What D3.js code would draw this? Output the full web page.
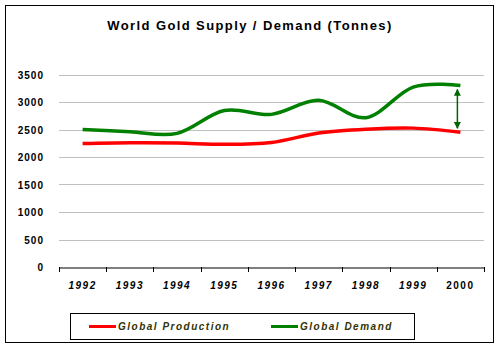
<!DOCTYPE html>
<html>
<head>
<meta charset="utf-8">
<script src="https://cdn.jsdelivr.net/npm/d3@7"></script>
<style>
  body { margin: 0; background: #fff; }
  text { font-family: "Liberation Sans", Arial, sans-serif; }
</style>
</head>
<body>
<div id="chart"></div>
<script>
var years = ['1992', '1993', '1994', '1995', '1996', '1997', '1998', '1999', '2000']
var production = [2245, 2260, 2255, 2230, 2265, 2435, 2505, 2525, 2450]
var demand = [2500, 2460, 2430, 2845, 2775, 3030, 2715, 3270, 3300]
var yTicks = [0, 500, 1000, 1500, 2000, 2500, 3000, 3500]
var seriesNames = ['Global Production', 'Global Demand']
var seriesColors = ['#ff0000', '#008000']

var width = 500, height = 350

var svg = d3.select('#chart')
    .append('svg')
    .attr('width', width)
    .attr('height', height)

// outer frame
svg.append('rect')
    .attr('x', 5.5).attr('y', 5.5)
    .attr('width', 488).attr('height', 337)
    .attr('fill', '#fff')
    .attr('stroke', '#000')

svg.append('text')
    .attr('x', 250).attr('y', 30)
    .attr('text-anchor', 'middle')
    .style('font-size', '13px')
    .style('font-weight', 'bold')
    .style('letter-spacing', '1.4px')
    .text('World Gold Supply / Demand (Tonnes)')

var x = d3.scaleBand()
    .domain(years)
    .range([59, 484])

var y = d3.scaleLinear()
    .domain([0, 3500])
    .range([267, 74.5])

// gridlines
svg.append('g')
    .selectAll('line')
    .data(yTicks.filter(function(d) { return d > 0 }))
    .enter()
    .append('line')
    .attr('x1', 59).attr('x2', 484)
    .attr('y1', function(d) { return Math.round(y(d)) + 0.5 })
    .attr('y2', function(d) { return Math.round(y(d)) + 0.5 })
    .attr('stroke', '#c0c0c0')
    .attr('stroke-width', 1)

// y labels
svg.append('g')
    .selectAll('text')
    .data(yTicks)
    .enter()
    .append('text')
    .attr('x', 44)
    .attr('y', function(d) { return y(d) + 4 })
    .attr('text-anchor', 'end')
    .style('font-size', '10px')
    .style('font-weight', 'bold')
    .style('letter-spacing', '1px')
    .text(function(d) { return d })

// x axis
var xAxis = svg.append('g')
    .attr('transform', 'translate(0,267.5)')
    .call(d3.axisBottom(x).tickSize(0).tickFormat(''))
xAxis.select('.domain').attr('stroke', '#000')

svg.append('g')
    .selectAll('line')
    .data(years.concat(['end']))
    .enter()
    .append('line')
    .attr('x1', function(d, i) { return Math.round(59 + i * x.step()) + 0.5 })
    .attr('x2', function(d, i) { return Math.round(59 + i * x.step()) + 0.5 })
    .attr('y1', 267).attr('y2', 272)
    .attr('stroke', '#000')

svg.append('g')
    .selectAll('text')
    .data(years)
    .enter()
    .append('text')
    .attr('x', function(d) { return x(d) + x.bandwidth() / 2 })
    .attr('y', 289)
    .attr('text-anchor', 'middle')
    .style('font-size', '10px')
    .style('font-weight', 'bold')
    .style('font-style', function(d) { return d === '2000' ? 'normal' : 'italic' })
    .style('letter-spacing', '1.5px')
    .text(function(d) { return d })

var line = d3.line()
    .x(function(d, i) { return x(years[i]) + x.bandwidth() / 2 })
    .y(function(d) { return y(d) })
    .curve(d3.curveCardinal.tension(0))

;[production, demand].forEach(function(s, k) {
    svg.append('path')
        .datum(s)
        .attr('d', line)
        .attr('fill', 'none')
        .attr('stroke', seriesColors[k])
        .attr('stroke-width', 3.5)
})

// double arrow between demand and production at 2000
var defs = svg.append('defs')
defs.append('marker')
    .attr('id', 'ah')
    .attr('viewBox', '0 0 10 10')
    .attr('refX', 9).attr('refY', 5)
    .attr('markerWidth', 7).attr('markerHeight', 8)
    .attr('markerUnits', 'userSpaceOnUse')
    .attr('orient', 'auto-start-reverse')
    .append('path')
    .attr('d', 'M0,0L10,5L0,10Z')
    .attr('fill', '#006600')

var ax = x('2000') + x.bandwidth() / 2 - 3
svg.append('line')
    .attr('x1', ax).attr('x2', ax)
    .attr('y1', y(demand[8]) + 4)
    .attr('y2', y(production[8]) - 4)
    .attr('stroke', '#006600')
    .attr('stroke-width', 1.5)
    .attr('marker-start', 'url(#ah)')
    .attr('marker-end', 'url(#ah)')

// legend
svg.append('rect')
    .attr('x', 70.5).attr('y', 313.5)
    .attr('width', 344).attr('height', 26)
    .attr('fill', '#fff')
    .attr('stroke', '#000')

var legendX = [89, 271]
seriesNames.forEach(function(n, k) {
    svg.append('line')
        .attr('x1', legendX[k]).attr('x2', legendX[k] + 27)
        .attr('y1', 326.5).attr('y2', 326.5)
        .attr('stroke', seriesColors[k])
        .attr('stroke-width', 3)
    svg.append('text')
        .attr('x', legendX[k] + 29)
        .attr('y', 330)
        .style('font-size', '10px')
        .style('font-weight', 'bold')
        .style('font-style', 'italic')
        .style('letter-spacing', '1.5px')
        .attr('fill', '#333300')
        .text(n)
})
</script>
</body>
</html>
